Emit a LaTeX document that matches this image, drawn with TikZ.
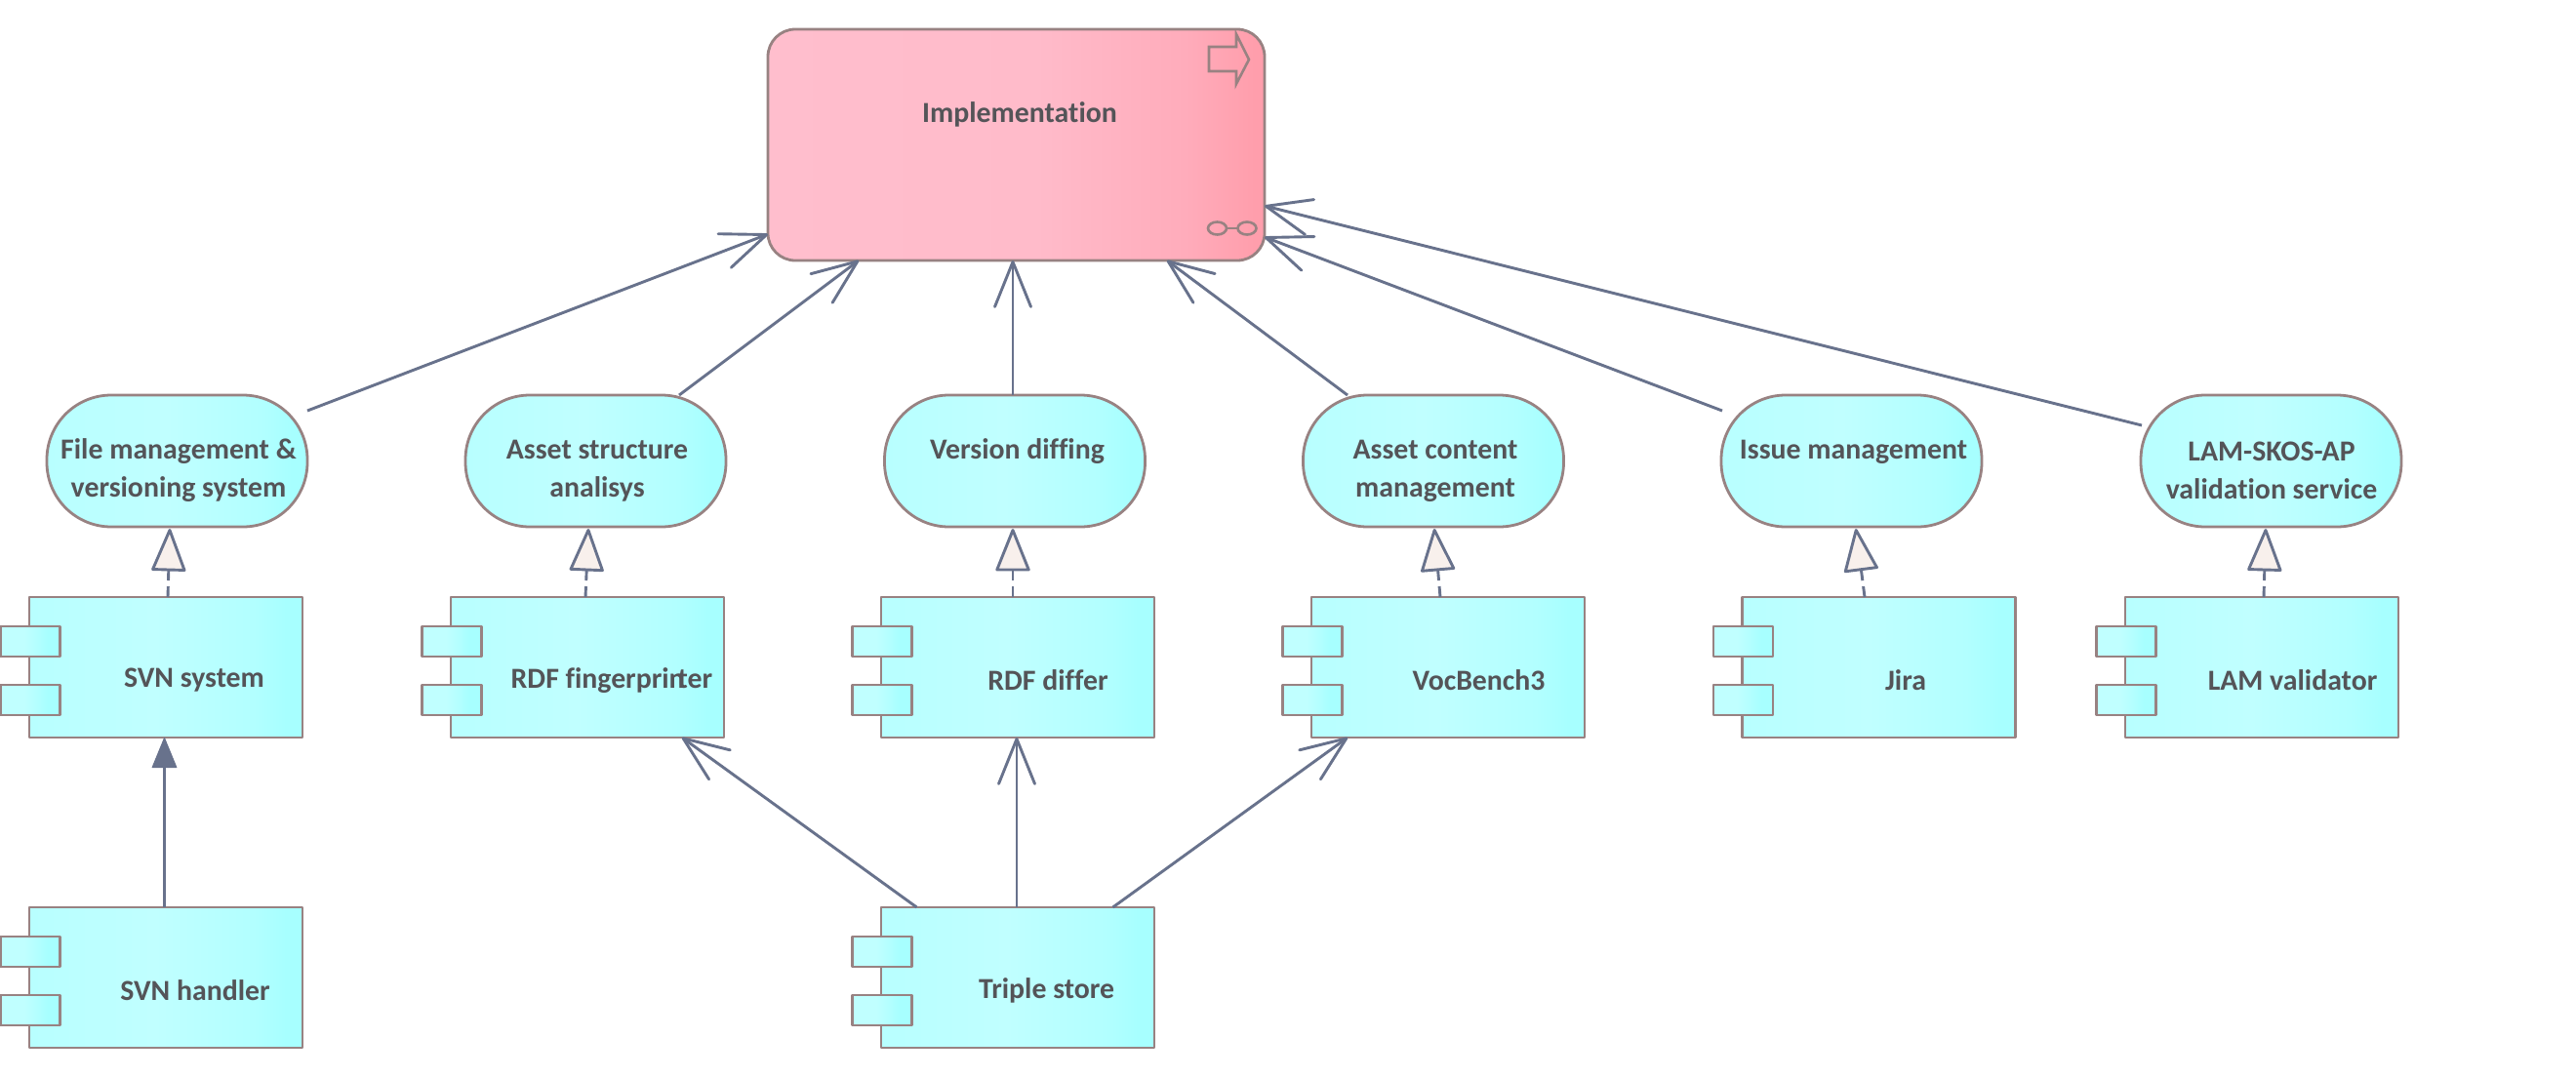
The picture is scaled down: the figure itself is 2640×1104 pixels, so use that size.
\documentclass[tikz,border=0pt]{standalone}
\usepackage{fontspec}
\setmainfont{Carlito}[Ligatures=NoCommon]
\usetikzlibrary{arrows.meta,calc}
\definecolor{brd}{RGB}{152,130,130}
\definecolor{conn}{RGB}{104,114,140}
\definecolor{txtc}{RGB}{84,84,88}
\definecolor{triFill}{RGB}{248,240,236}
\definecolor{cyA}{RGB}{184,255,255}
\definecolor{cyB}{RGB}{192,255,255}
\definecolor{cyC}{RGB}{178,255,255}
\definecolor{cyD}{RGB}{167,255,255}
\definecolor{pkA}{RGB}{255,190,205}
\definecolor{pkB}{RGB}{255,187,202}
\definecolor{pkC}{RGB}{255,172,187}
\definecolor{pkD}{RGB}{255,158,172}
\pgfdeclarehorizontalshading{cyanShade}{100bp}{color(0bp)=(cyA); color(25bp)=(cyA); color(48bp)=(cyB); color(66bp)=(cyC); color(72bp)=(cyD); color(100bp)=(cyD)}
\pgfdeclarehorizontalshading{portShade}{100bp}{color(0bp)=(cyB); color(25bp)=(cyB); color(45bp)=(cyB); color(65bp)=(cyD); color(100bp)=(cyD)}
\pgfdeclarehorizontalshading{pinkShade}{100bp}{color(0bp)=(pkA); color(25bp)=(pkA); color(52bp)=(pkB); color(67bp)=(pkC); color(74bp)=(pkD); color(100bp)=(pkD)}
\tikzset{
  box/.style={draw=brd,line width=2.8pt,line join=round,outer sep=0pt,inner sep=0pt},
  implbox/.style={box,shading=pinkShade,rounded corners=28pt,minimum width=509pt,minimum height=237pt},
  svcbox/.style={box,shading=cyanShade,rounded corners=66pt,minimum width=267pt,minimum height=135pt},
  compbody/.style={box,shading=cyanShade,minimum width=280pt,minimum height=144pt},
  portbox/.style={box,shading=portShade,minimum width=61pt,minimum height=31pt},
  txt/.style={text=txtc,font=\fontsize{29.8}{39}\selectfont\bfseries,align=center,inner sep=0pt},
  assign/.style={draw=conn,line width=2.9pt,-{Straight Barb[length=46pt,width=37pt,line width=2.9pt,round]}},
  realize/.style={draw=conn,line width=2.9pt,dash pattern=on 11pt off 6pt,-{Triangle[length=46pt,width=36pt,fill=triFill,line width=2.9pt,round]}},
  serve/.style={draw=conn,line width=2.9pt,-{Triangle[length=32pt,width=26pt,fill=conn,line width=1pt,round]}},
  icon/.style={draw=brd,line width=2.6pt,line join=miter}
}
\newcommand{\compbox}[5]{%
  \node[compbody] (#1) at (#2,#3) {};
  \node[portbox] (#1p1) at ([shift={(-139,-26.5)}]#1.center) {};
  \node[portbox] (#1p2) at ([shift={(-139,33.5)}]#1.center) {};
  \node[txt] (#1t) at (#4,#3+13.5) {#5};
}
\begin{document}
\begin{tikzpicture}[x=1pt,y=-1pt]
\useasboundingbox[fill=white] (0,0) rectangle (2640,1104);
% top element
\node[implbox] (impl) at (1041.5,148.5) {};
\node[txt] (implt) at (1045,117) {Implementation};
\draw[icon] (1239,48) -- (1267,48) -- (1267,35) -- (1280,61) -- (1267,86) -- (1267,73) -- (1239,73) -- cycle;
\draw[icon] (1247.5,234) ellipse (9.5 and 6.5);
\draw[icon] (1278,234) ellipse (9.5 and 6.5);
\draw[icon] (1257,234) -- (1268.5,234);
% services
\node[svcbox] (s1) at (181.5,472.5) {};
\node[svcbox] (s2) at (610.5,472.5) {};
\node[svcbox] (s3) at (1040,472.5) {};
\node[svcbox] (s4) at (1469,472.5) {};
\node[svcbox] (s5) at (1897.5,472.5) {};
\node[svcbox] (s6) at (2327.5,472.5) {};
\node[txt] (s1t) at (183,482.5) {File management \&\\versioning system};
\node[txt] (s2t) at (612,482.5) {Asset structure\\analisys};
\node[txt] (s3t) at (1042.5,463) {Version diffing};
\node[txt] (s4t) at (1471,482.5) {Asset content\\management};
\node[txt] (s5t) at (1899.5,463) {Issue management};
\node[txt] (s6t) at (2328,482.5) {LAM-SKOS-AP\\validation service};
% components
\compbox{c1}{170}{684}{199}{SVN system}
\compbox{c2}{602}{684}{627}{RDF fingerprin\kern-7pt ter}
\compbox{c3}{1043}{684}{1074}{RDF differ}
\compbox{c4}{1484}{684}{1515.5}{VocBench3}
\compbox{c5}{1925.5}{684}{1953}{Jira}
\compbox{c6}{2318}{684}{2349.5}{LAM validator}
\compbox{h1}{170}{1002}{200}{SVN handler}
\compbox{ts}{1043}{1002}{1072.6}{Triple store}
% connectors to the top element
\draw[assign] ([shift={(133.5,-51.5)}]s1.center) -- ([shift={(-254.5,91.5)}]impl.center);
\draw[assign] ([shift={(85.5,-67.5)}]s2.center) -- ([shift={(-161.5,118.5)}]impl.center);
\draw[assign] ([shift={(-2,-67.5)}]s3.center) -- ([shift={(-3.5,118.5)}]impl.center);
\draw[assign] ([shift={(-88,-67.5)}]s4.center) -- ([shift={(154.5,118.5)}]impl.center);
\draw[assign] ([shift={(-132.5,-51.5)}]s5.center) -- ([shift={(254.5,94.5)}]impl.center);
\draw[assign] ([shift={(-132.5,-36.5)}]s6.center) -- ([shift={(254.5,62.5)}]impl.center);
% realization
\draw[realize] ([shift={(2,-72)}]c1.center) -- ([shift={(-7.5,69.5)}]s1.center);
\draw[realize] ([shift={(-2,-72)}]c2.center) -- ([shift={(-7.5,69.5)}]s2.center);
\draw[realize] ([shift={(-5,-72)}]c3.center) -- ([shift={(-2,69.5)}]s3.center);
\draw[realize] ([shift={(-8,-72)}]c4.center) -- ([shift={(1,69.5)}]s4.center);
\draw[realize] ([shift={(-14.5,-72)}]c5.center) -- ([shift={(4.5,69.5)}]s5.center);
\draw[realize] ([shift={(2,-72)}]c6.center) -- ([shift={(-5.5,69.5)}]s6.center);
% serving
\draw[serve] ([shift={(-1.5,-72)}]h1.center) -- ([shift={(-1.5,72)}]c1.center);
\draw[assign] ([shift={(-103.5,-72)}]ts.center) -- ([shift={(97,72)}]c2.center);
\draw[assign] ([shift={(-1,-72)}]ts.center) -- ([shift={(-1,72)}]c3.center);
\draw[assign] ([shift={(97.5,-72)}]ts.center) -- ([shift={(-103,72)}]c4.center);
\end{tikzpicture}
\end{document}
